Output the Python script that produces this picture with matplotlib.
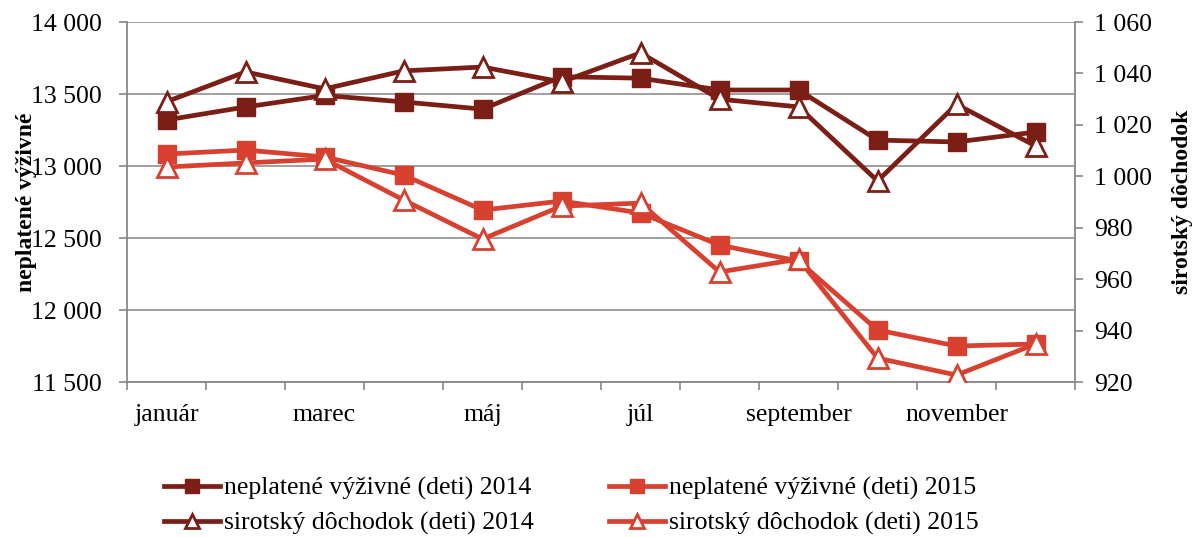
import numpy as np
import matplotlib.pyplot as plt
from matplotlib.ticker import FixedLocator, FuncFormatter

plt.rcParams['font.family'] = ['Liberation Serif', 'DejaVu Serif']

months = ['január', 'február', 'marec', 'apríl', 'máj', 'jún',
          'júl', 'august', 'september', 'október', 'november', 'december']

vyzivne_2014 = [13320, 13410, 13490, 13445, 13395, 13620,
                13610, 13528, 13528, 13180, 13167, 13236]
vyzivne_2015 = [13083, 13111, 13063, 12937, 12694, 12757,
                12674, 12451, 12340, 11861, 11750, 11764]
sirotsky_2014 = [1029, 1040.6, 1034, 1041, 1042.5, 1036.7,
                 1048, 1030, 1027, 998.2, 1028, 1011.8]
sirotsky_2015 = [1003.6, 1005.2, 1006.7, 990.8, 975.6, 988.4,
                 989.6, 962.8, 967.8, 929.3, 922.7, 934.8]

DARK = '#7B1E15'
RED = '#D8412F'
FS = 18.5


def space_thousands(v, pos):
    return f'{int(round(v)):,}'.replace(',', ' ')


fig = plt.figure(figsize=(11.95, 5.37), dpi=100)
ax = fig.add_axes([0.1063, 0.2886, 0.7933, 0.6704])
ax2 = ax.twinx()

x = np.arange(len(months))

l1, = ax.plot(x, vyzivne_2014, color=DARK, lw=3.4, marker='s', ms=13,
              label='neplatené výživné (deti) 2014')
l2, = ax.plot(x, vyzivne_2015, color=RED, lw=3.4, marker='s', ms=13,
              label='neplatené výživné (deti) 2015')
l3, = ax2.plot(x, sirotsky_2014, color=DARK, lw=3.4, marker='^', ms=14,
               mfc='white', mew=2, label='sirotský dôchodok (deti) 2014')
l4, = ax2.plot(x, sirotsky_2015, color=RED, lw=3.4, marker='^', ms=14,
               mfc='white', mew=2, label='sirotský dôchodok (deti) 2015')

ax.set_xlim(-0.5, 11.5)
ax.set_ylim(11500, 14000)
ax2.set_ylim(920, 1060)
ax.set_yticks(np.arange(11500, 14001, 500))
ax2.set_yticks(np.arange(920, 1061, 20))
ax.yaxis.set_major_formatter(FuncFormatter(space_thousands))
ax2.yaxis.set_major_formatter(FuncFormatter(space_thousands))

ax.set_xticks(x[::2])
ax.set_xticklabels(months[::2])
ax.xaxis.set_minor_locator(FixedLocator(np.arange(-0.5, 12, 1)))
ax.tick_params(axis='x', which='major', length=0, pad=16, labelsize=FS)
ax.tick_params(axis='x', which='minor', length=6, color='#888888', width=1.2)
ax.tick_params(axis='y', length=6, color='#888888', width=1.2,
               labelsize=FS, pad=12)
ax2.tick_params(axis='y', length=6, color='#888888', width=1.2,
                labelsize=FS, pad=8)

ax.grid(axis='y', color='#999999', lw=1.3)
ax.set_axisbelow(True)
for a in (ax, ax2):
    a.spines['top'].set_visible(False)
    for s in ('left', 'right', 'bottom'):
        a.spines[s].set_color('#888888')
        a.spines[s].set_linewidth(1.3)
ax.spines['right'].set_visible(False)
ax2.spines['left'].set_visible(False)
ax2.spines['bottom'].set_visible(False)

ax.set_ylabel('neplatené výživné', fontsize=17, fontweight='bold', labelpad=-4)
ax2.set_ylabel('sirotský dôchodok', fontsize=17, fontweight='bold', labelpad=14)

fig.legend(handles=[l1, l3, l2, l4], loc='lower center', ncol=2,
           bbox_to_anchor=(0.478, -0.04), frameon=False, fontsize=FS,
           handlelength=2.2, handletextpad=0.15, columnspacing=2.9,
           labelspacing=0.45, markerscale=0.75)

fig.savefig('out.png', dpi=100)
